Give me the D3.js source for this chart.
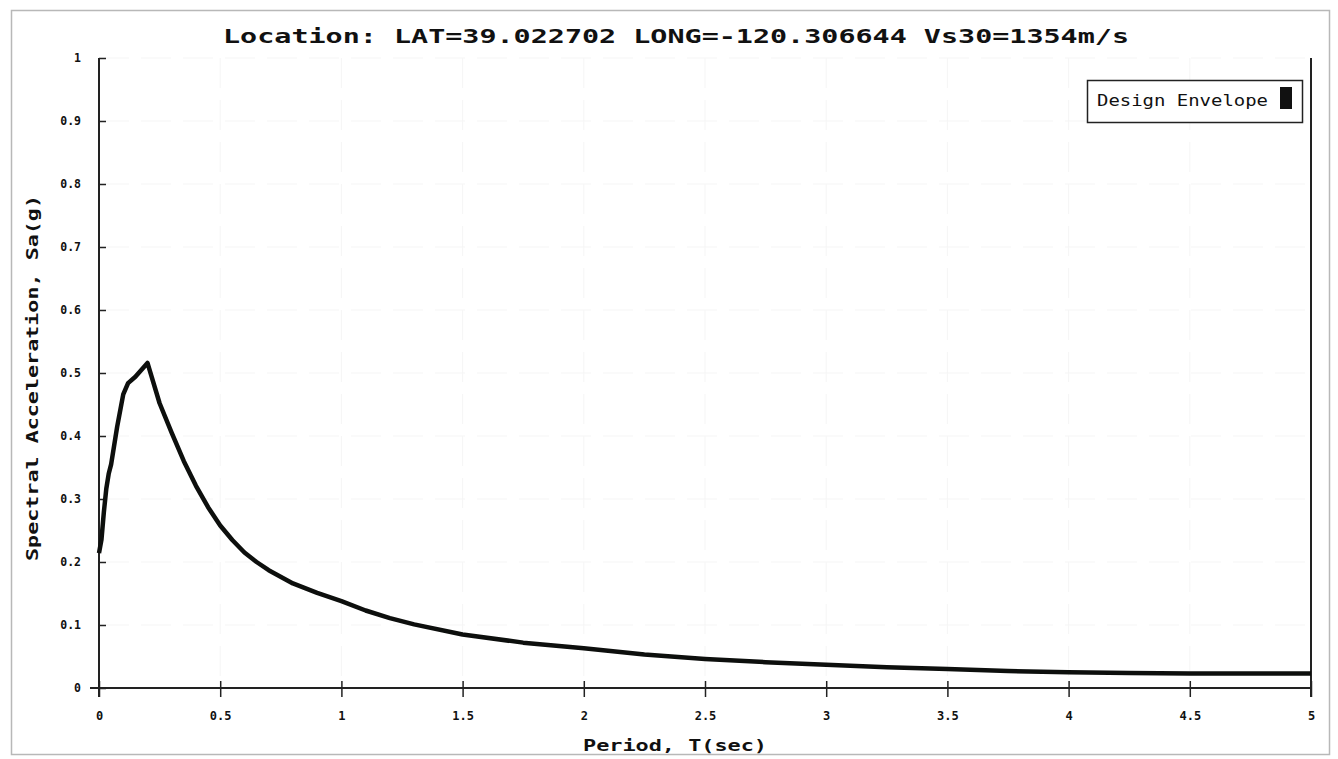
<!DOCTYPE html>
<html><head><meta charset="utf-8">
<script src="https://cdn.jsdelivr.net/npm/d3@7"></script>
<style>
html,body{margin:0;padding:0;background:#fff;}
svg{display:block;}
text{font-family:"DejaVu Sans Mono","Liberation Mono",monospace;fill:#111;}
</style></head>
<body>
<svg id="c" width="1338" height="759"></svg>
<script>
const titleText = "Location: LAT=39.022702 LONG=-120.306644 Vs30=1354m/s";
const xLabel = "Period, T(sec)";
const yLabel = "Spectral Acceleration, Sa(g)";
const seriesName = "Design Envelope";
const xTicks = [0, 0.5, 1, 1.5, 2, 2.5, 3, 3.5, 4, 4.5, 5];
const yTicks = [0, 0.1, 0.2, 0.3, 0.4, 0.5, 0.6, 0.7, 0.8, 0.9, 1];
const periods = [0, 0.01, 0.02, 0.03, 0.04, 0.05, 0.075, 0.1, 0.12, 0.15, 0.2, 0.25, 0.3, 0.35, 0.4, 0.45, 0.5, 0.55, 0.6, 0.65, 0.7, 0.8, 0.9, 1.0, 1.1, 1.2, 1.3, 1.5, 1.75, 2.0, 2.25, 2.5, 2.75, 3.0, 3.25, 3.5, 3.75, 4.0, 4.25, 4.5, 4.75, 5.0];
const sa = [0.214, 0.235, 0.279, 0.316, 0.34, 0.355, 0.415, 0.466, 0.484, 0.494, 0.516, 0.452, 0.405, 0.36, 0.321, 0.287, 0.258, 0.235, 0.215, 0.2, 0.187, 0.166, 0.151, 0.138, 0.123, 0.111, 0.101, 0.085, 0.072, 0.063, 0.053, 0.046, 0.041, 0.037, 0.033, 0.030, 0.027, 0.025, 0.024, 0.023, 0.023, 0.023];

const svg = d3.select("#c");
const L = 99, R = 1311, T = 58, B = 688;
const x = d3.scaleLinear().domain([0, 5]).range([L, R]);
const y = d3.scaleLinear().domain([0, 1]).range([B, T]);

// outer frame
svg.append("rect").attr("x", 11.5).attr("y", 10.5).attr("width", 1318).attr("height", 744)
  .attr("fill", "none").attr("stroke", "#b8b8b8").attr("stroke-width", 1.5);

// faint grid
const grid = svg.append("g").attr("stroke", "#f5f5f5").attr("stroke-width", 1).attr("stroke-dasharray", "30,12");
grid.selectAll(".gx").data(xTicks.slice(1, -1)).enter().append("line")
  .attr("x1", d => x(d)).attr("x2", d => x(d)).attr("y1", T).attr("y2", B);
grid.selectAll(".gy").data(yTicks.slice(1)).enter().append("line")
  .attr("x1", L).attr("x2", R).attr("y1", d => y(d)).attr("y2", d => y(d));

// title
svg.append("text").attr("x", 676).attr("y", 43).attr("text-anchor", "middle")
  .attr("font-size", 20).attr("font-weight", "bold")
  .attr("textLength", 906).attr("lengthAdjust", "spacingAndGlyphs").text(titleText);

// axes
const ax = svg.append("g").attr("transform", `translate(0,${B})`)
  .call(d3.axisBottom(x).tickValues(xTicks).tickFormat(d3.format("")).tickSize(9).tickPadding(14));
ax.select(".domain").attr("d", `M${L - 9},0H${R}`).attr("stroke", "#222").attr("stroke-width", 2);
ax.selectAll(".tick line").attr("y1", -7).attr("stroke", "#222").attr("stroke-width", 1.5);
ax.selectAll(".tick text").attr("font-size", 12).attr("font-weight", "bold")
  .attr("font-family", "DejaVu Sans Mono, monospace").attr("fill", "#111");

const ay = svg.append("g").attr("transform", `translate(${L},0)`)
  .call(d3.axisLeft(y).tickValues(yTicks).tickFormat(d3.format("")).tickSize(8).tickPadding(10));
ay.select(".domain").attr("d", `M0,${T}V${B + 9}`).attr("stroke", "#222").attr("stroke-width", 2);
ay.selectAll(".tick line").attr("x2", 7).attr("stroke", "#222").attr("stroke-width", 1.5);
ay.selectAll(".tick text").attr("font-size", 11.5).attr("font-weight", "bold")
  .attr("font-family", "DejaVu Sans Mono, monospace").attr("fill", "#111");

// right border line
svg.append("line").attr("x1", R).attr("x2", R).attr("y1", T).attr("y2", B + 9)
  .attr("stroke", "#222").attr("stroke-width", 2);

// axis labels
svg.append("text").attr("x", 675).attr("y", 751).attr("text-anchor", "middle")
  .attr("font-size", 15).attr("font-weight", "bold")
  .attr("textLength", 184).attr("lengthAdjust", "spacingAndGlyphs").text(xLabel);
svg.append("text").attr("transform", "translate(38,378) rotate(-90)").attr("text-anchor", "middle")
  .attr("font-size", 15).attr("font-weight", "bold")
  .attr("textLength", 366).attr("lengthAdjust", "spacingAndGlyphs").text(yLabel);

// curve
const line = d3.line().x(d => x(d[0])).y(d => y(d[1]));
svg.append("path").datum(periods.map((p, i) => [p, sa[i]]))
  .attr("d", line).attr("fill", "none").attr("stroke", "#0d0f0d")
  .attr("stroke-width", 4.5).attr("stroke-linejoin", "round");

// legend
const lg = svg.append("g");
lg.append("rect").attr("x", 1087.5).attr("y", 80.5).attr("width", 215).attr("height", 42)
  .attr("fill", "#fff").attr("stroke", "#222").attr("stroke-width", 1.5);
lg.append("text").attr("x", 1097).attr("y", 106).attr("font-size", 16)
  .attr("textLength", 171).attr("lengthAdjust", "spacingAndGlyphs").text(seriesName);
lg.append("rect").attr("x", 1280).attr("y", 87).attr("width", 12).attr("height", 22).attr("fill", "#111");
</script>
</body></html>
